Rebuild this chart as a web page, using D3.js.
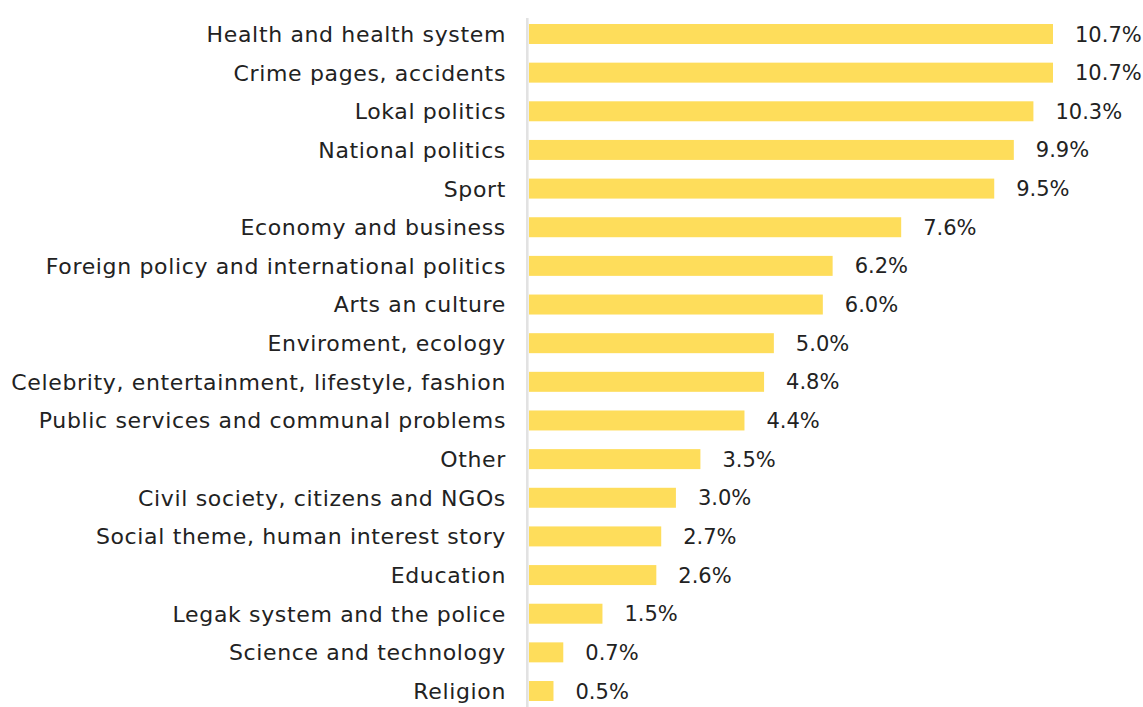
<!DOCTYPE html>
<html>
<head>
<meta charset="utf-8">
<script src="https://cdn.jsdelivr.net/npm/d3@7"></script>
<style>
  html, body { margin: 0; padding: 0; background: #fff; }
  svg { display: block; }
  text { font-family: "DejaVu Sans", sans-serif; fill: #222; }
</style>
</head>
<body>
<svg id="chart" width="1143" height="707"></svg>
<script>
// Topic shares (%)
const categories = [
  "Health and health system",
  "Crime pages, accidents",
  "Lokal politics",
  "National politics",
  "Sport",
  "Economy and business",
  "Foreign policy and international politics",
  "Arts an culture",
  "Enviroment, ecology",
  "Celebrity, entertainment, lifestyle, fashion",
  "Public services and communal problems",
  "Other",
  "Civil society, citizens and NGOs",
  "Social theme, human interest story",
  "Education",
  "Legak system and the police",
  "Science and technology",
  "Religion"
];
const values = [10.7, 10.7, 10.3, 9.9, 9.5, 7.6, 6.2, 6.0, 5.0, 4.8, 4.4, 3.5, 3.0, 2.7, 2.6, 1.5, 0.7, 0.5];
const valueLabels = ["10.7%", "10.7%", "10.3%", "9.9%", "9.5%", "7.6%", "6.2%", "6.0%", "5.0%", "4.8%", "4.4%", "3.5%", "3.0%", "2.7%", "2.6%", "1.5%", "0.7%", "0.5%"];

const data = categories.map((c, i) => ({ cat: c, value: values[i], label: valueLabels[i] }));

const svg = d3.select("#chart");
const fontSize = 22;
const valueFontSize = 21;

// a little tracking so the longest category label spans the left column
const longest = d3.greatest(categories, c => c.length);
const probe = svg.append("text").style("font-size", fontSize + "px").text(longest);
const tracking = Math.max(0, (494 - probe.node().getComputedTextLength()) / (longest.length - 1));
probe.remove();

const x = d3.scaleLinear().domain([0, 10.7]).range([529, 1053]);
const y = d3.scaleBand().domain(categories).range([24, 701]).paddingInner(0.483).paddingOuter(0);

// baseline rule
svg.append("line")
  .attr("x1", 527.3).attr("x2", 527.3)
  .attr("y1", 18).attr("y2", 707)
  .attr("stroke", "#e2e2e2").attr("stroke-width", 2.6);

// bars
svg.append("g").selectAll("rect")
  .data(data).join("rect")
  .attr("x", x(0))
  .attr("y", d => y(d.cat))
  .attr("width", d => x(d.value) - x(0))
  .attr("height", y.bandwidth())
  .attr("fill", "#fedd5b");

// category labels via a left axis
const axis = d3.axisLeft(y).tickSize(0).tickPadding(0);
const g = svg.append("g").attr("transform", "translate(506,0)").call(axis);
g.select(".domain").remove();
g.selectAll("text")
  .attr("font-family", null)
  .style("font-size", fontSize + "px")
  .style("letter-spacing", tracking + "px")
  .attr("fill", null)
  .attr("dy", "0.36em");

// value labels
svg.append("g").selectAll("text")
  .data(data).join("text")
  .attr("x", d => x(d.value) + 22)
  .attr("y", d => y(d.cat) + y.bandwidth() / 2)
  .attr("dy", "0.36em")
  .style("font-size", valueFontSize + "px")
  .text(d => d.label);
</script>
</body>
</html>
